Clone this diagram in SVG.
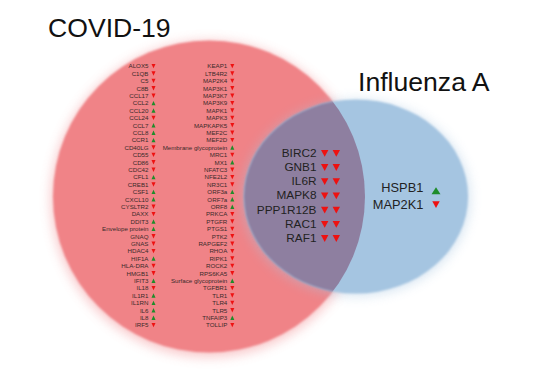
<svg xmlns="http://www.w3.org/2000/svg" xmlns:xlink="http://www.w3.org/1999/xlink" width="537" height="375" viewBox="0 0 537 375">
<style>
.title{font-family:"Liberation Sans",Arial,sans-serif;font-size:26.6px;fill:#111}
.g{font-family:"Liberation Sans",Arial,sans-serif;font-size:11.8px;fill:#222;text-anchor:end}
.h{font-family:"Liberation Sans",Arial,sans-serif;font-size:12.8px;fill:#222;text-anchor:end}
.s{font-family:"Liberation Sans",Arial,sans-serif;font-size:6.2px;fill:#3a2a2a;text-anchor:end}
.dn{fill:#ee1111}
.up{fill:#1e8c2a}
</style>
<defs>
<filter id="glow" x="-20%" y="-20%" width="140%" height="140%"><feGaussianBlur stdDeviation="6"/></filter>
<filter id="soft" x="-5%" y="-5%" width="110%" height="110%"><feGaussianBlur stdDeviation="0.8"/></filter>
<clipPath id="redclip"><circle cx="209" cy="196.5" r="156"/></clipPath>
<path id="bd" d="M-3.7,-6.8 L3.7,-6.8 L0,0 Z"/>
<path id="bu" d="M-4.5,0 L4.5,0 L0,-7 Z"/>
<path id="sd" d="M-2,-4.4 L2,-4.4 L0,0 Z"/>
<path id="su" d="M-2,0 L2,0 L0,-4.4 Z"/>
</defs>
<rect width="537" height="375" fill="#fff"/>
<g id="covid">
<circle cx="209" cy="199" r="158" fill="#f08286" opacity="0.45" filter="url(#glow)"/>
<circle cx="209" cy="196.5" r="156" fill="#f08387" filter="url(#soft)"/>
<text class="title" x="48" y="36.7">COVID-19</text>
</g>
<g id="influenza">
<ellipse cx="356" cy="198" rx="114" ry="98" fill="#a4c4e0" opacity="0.45" filter="url(#glow)"/>
<ellipse cx="356" cy="196.5" rx="112" ry="97" fill="#a5c5e1" filter="url(#soft)"/>
<ellipse cx="356" cy="196.5" rx="112" ry="97" fill="#8e7fa0" clip-path="url(#redclip)" filter="url(#soft)"/>
<text class="title" x="358" y="91">Influenza A</text>
</g>
<g id="connectors"/>
<g id="shared-genes">
<text class="g" x="316.5" y="156.7">BIRC2</text><use href="#bd" x="324.7" y="156.7" class="dn"/><use href="#bd" x="336.3" y="156.7" class="dn"/>
<text class="g" x="316.5" y="170.9">GNB1</text><use href="#bd" x="324.7" y="170.9" class="dn"/><use href="#bd" x="336.3" y="170.9" class="dn"/>
<text class="g" x="316.5" y="185.1">IL6R</text><use href="#bd" x="324.7" y="185.1" class="dn"/><use href="#bd" x="336.3" y="185.1" class="dn"/>
<text class="g" x="316.5" y="199.3">MAPK8</text><use href="#bd" x="324.7" y="199.3" class="dn"/><use href="#bd" x="336.3" y="199.3" class="dn"/>
<text class="g" x="316.5" y="213.5">PPP1R12B</text><use href="#bd" x="324.7" y="213.5" class="dn"/><use href="#bd" x="336.3" y="213.5" class="dn"/>
<text class="g" x="316.5" y="227.7">RAC1</text><use href="#bd" x="324.7" y="227.7" class="dn"/><use href="#bd" x="336.3" y="227.7" class="dn"/>
<text class="g" x="316.5" y="241.9">RAF1</text><use href="#bd" x="324.7" y="241.9" class="dn"/><use href="#bd" x="336.3" y="241.9" class="dn"/>
</g>
<g id="influenza-genes">
<text class="h" x="423.3" y="192">HSPB1</text><use href="#bu" x="436" y="194.3" class="up"/>
<text class="h" x="423.3" y="208.5">MAP2K1</text><use href="#bd" x="436" y="208" class="dn"/>
</g>
<g id="covid-genes-1">
<text class="s" x="148.5" y="68.3">ALOX5</text><use href="#sd" x="153.5" y="68.3" class="dn"/>
<text class="s" x="148.5" y="75.7">C1QB</text><use href="#sd" x="153.5" y="75.7" class="dn"/>
<text class="s" x="148.5" y="83.1">C5</text><use href="#sd" x="153.5" y="83.1" class="dn"/>
<text class="s" x="148.5" y="90.5">C8B</text><use href="#sd" x="153.5" y="90.5" class="dn"/>
<text class="s" x="148.5" y="97.9">CCL17</text><use href="#sd" x="153.5" y="97.9" class="dn"/>
<text class="s" x="148.5" y="105.3">CCL2</text><use href="#su" x="153.5" y="105.3" class="up"/>
<text class="s" x="148.5" y="112.7">CCL20</text><use href="#su" x="153.5" y="112.7" class="up"/>
<text class="s" x="148.5" y="120.1">CCL24</text><use href="#sd" x="153.5" y="120.1" class="dn"/>
<text class="s" x="148.5" y="127.5">CCL7</text><use href="#su" x="153.5" y="127.5" class="up"/>
<text class="s" x="148.5" y="134.9">CCL8</text><use href="#su" x="153.5" y="134.9" class="up"/>
<text class="s" x="148.5" y="142.3">CCR1</text><use href="#su" x="153.5" y="142.3" class="up"/>
<text class="s" x="148.5" y="149.7">CD40LG</text><use href="#sd" x="153.5" y="149.7" class="dn"/>
<text class="s" x="148.5" y="157.1">CD55</text><use href="#sd" x="153.5" y="157.1" class="dn"/>
<text class="s" x="148.5" y="164.5">CD86</text><use href="#sd" x="153.5" y="164.5" class="dn"/>
<text class="s" x="148.5" y="171.9">CDC42</text><use href="#sd" x="153.5" y="171.9" class="dn"/>
<text class="s" x="148.5" y="179.3">CFL1</text><use href="#su" x="153.5" y="179.3" class="up"/>
<text class="s" x="148.5" y="186.7">CREB1</text><use href="#sd" x="153.5" y="186.7" class="dn"/>
<text class="s" x="148.5" y="194.1">CSF1</text><use href="#su" x="153.5" y="194.1" class="up"/>
<text class="s" x="148.5" y="201.5">CXCL10</text><use href="#su" x="153.5" y="201.5" class="up"/>
<text class="s" x="148.5" y="208.9">CYSLTR2</text><use href="#sd" x="153.5" y="208.9" class="dn"/>
<text class="s" x="148.5" y="216.3">DAXX</text><use href="#sd" x="153.5" y="216.3" class="dn"/>
<text class="s" x="148.5" y="223.7">DDIT3</text><use href="#su" x="153.5" y="223.7" class="up"/>
<text class="s" x="148.5" y="231.1">Envelope protein</text><use href="#su" x="153.5" y="231.1" class="up"/>
<text class="s" x="148.5" y="238.5">GNAQ</text><use href="#sd" x="153.5" y="238.5" class="dn"/>
<text class="s" x="148.5" y="245.9">GNAS</text><use href="#sd" x="153.5" y="245.9" class="dn"/>
<text class="s" x="148.5" y="253.3">HDAC4</text><use href="#sd" x="153.5" y="253.3" class="dn"/>
<text class="s" x="148.5" y="260.7">HIF1A</text><use href="#su" x="153.5" y="260.7" class="up"/>
<text class="s" x="148.5" y="268.1">HLA-DRA</text><use href="#sd" x="153.5" y="268.1" class="dn"/>
<text class="s" x="148.5" y="275.5">HMGB1</text><use href="#sd" x="153.5" y="275.5" class="dn"/>
<text class="s" x="148.5" y="282.9">IFIT3</text><use href="#su" x="153.5" y="282.9" class="up"/>
<text class="s" x="148.5" y="290.3">IL18</text><use href="#sd" x="153.5" y="290.3" class="dn"/>
<text class="s" x="148.5" y="297.7">IL1R1</text><use href="#su" x="153.5" y="297.7" class="up"/>
<text class="s" x="148.5" y="305.1">IL1RN</text><use href="#su" x="153.5" y="305.1" class="up"/>
<text class="s" x="148.5" y="312.5">IL6</text><use href="#su" x="153.5" y="312.5" class="up"/>
<text class="s" x="148.5" y="319.9">IL8</text><use href="#su" x="153.5" y="319.9" class="up"/>
<text class="s" x="148.5" y="327.3">IRF5</text><use href="#sd" x="153.5" y="327.3" class="dn"/>
</g>
<g id="covid-genes-2">
<text class="s" x="227.3" y="68.3">KEAP1</text><use href="#sd" x="232.3" y="68.3" class="dn"/>
<text class="s" x="227.3" y="75.7">LTB4R2</text><use href="#sd" x="232.3" y="75.7" class="dn"/>
<text class="s" x="227.3" y="83.1">MAP2K4</text><use href="#sd" x="232.3" y="83.1" class="dn"/>
<text class="s" x="227.3" y="90.5">MAP3K1</text><use href="#sd" x="232.3" y="90.5" class="dn"/>
<text class="s" x="227.3" y="97.9">MAP3K7</text><use href="#sd" x="232.3" y="97.9" class="dn"/>
<text class="s" x="227.3" y="105.3">MAP3K9</text><use href="#sd" x="232.3" y="105.3" class="dn"/>
<text class="s" x="227.3" y="112.7">MAPK1</text><use href="#sd" x="232.3" y="112.7" class="dn"/>
<text class="s" x="227.3" y="120.1">MAPK3</text><use href="#sd" x="232.3" y="120.1" class="dn"/>
<text class="s" x="227.3" y="127.5">MAPKAPK5</text><use href="#sd" x="232.3" y="127.5" class="dn"/>
<text class="s" x="227.3" y="134.9">MEF2C</text><use href="#sd" x="232.3" y="134.9" class="dn"/>
<text class="s" x="227.3" y="142.3">MEF2D</text><use href="#sd" x="232.3" y="142.3" class="dn"/>
<text class="s" x="227.3" y="149.7">Membrane glycoprotein</text><use href="#su" x="232.3" y="149.7" class="up"/>
<text class="s" x="227.3" y="157.1">MRC1</text><use href="#sd" x="232.3" y="157.1" class="dn"/>
<text class="s" x="227.3" y="164.5">MX1</text><use href="#su" x="232.3" y="164.5" class="up"/>
<text class="s" x="227.3" y="171.9">NFATC3</text><use href="#sd" x="232.3" y="171.9" class="dn"/>
<text class="s" x="227.3" y="179.3">NFE2L2</text><use href="#sd" x="232.3" y="179.3" class="dn"/>
<text class="s" x="227.3" y="186.7">NR3C1</text><use href="#sd" x="232.3" y="186.7" class="dn"/>
<text class="s" x="227.3" y="194.1">ORF3a</text><use href="#su" x="232.3" y="194.1" class="up"/>
<text class="s" x="227.3" y="201.5">ORF7a</text><use href="#su" x="232.3" y="201.5" class="up"/>
<text class="s" x="227.3" y="208.9">ORF8</text><use href="#su" x="232.3" y="208.9" class="up"/>
<text class="s" x="227.3" y="216.3">PRKCA</text><use href="#sd" x="232.3" y="216.3" class="dn"/>
<text class="s" x="227.3" y="223.7">PTGFR</text><use href="#sd" x="232.3" y="223.7" class="dn"/>
<text class="s" x="227.3" y="231.1">PTGS1</text><use href="#sd" x="232.3" y="231.1" class="dn"/>
<text class="s" x="227.3" y="238.5">PTK2</text><use href="#sd" x="232.3" y="238.5" class="dn"/>
<text class="s" x="227.3" y="245.9">RAPGEF2</text><use href="#sd" x="232.3" y="245.9" class="dn"/>
<text class="s" x="227.3" y="253.3">RHOA</text><use href="#sd" x="232.3" y="253.3" class="dn"/>
<text class="s" x="227.3" y="260.7">RIPK1</text><use href="#sd" x="232.3" y="260.7" class="dn"/>
<text class="s" x="227.3" y="268.1">ROCK2</text><use href="#sd" x="232.3" y="268.1" class="dn"/>
<text class="s" x="227.3" y="275.5">RPS6KA5</text><use href="#sd" x="232.3" y="275.5" class="dn"/>
<text class="s" x="227.3" y="282.9">Surface glycoprotein</text><use href="#su" x="232.3" y="282.9" class="up"/>
<text class="s" x="227.3" y="290.3">TGFBR1</text><use href="#sd" x="232.3" y="290.3" class="dn"/>
<text class="s" x="227.3" y="297.7">TLR1</text><use href="#sd" x="232.3" y="297.7" class="dn"/>
<text class="s" x="227.3" y="305.1">TLR4</text><use href="#sd" x="232.3" y="305.1" class="dn"/>
<text class="s" x="227.3" y="312.5">TLR5</text><use href="#sd" x="232.3" y="312.5" class="dn"/>
<text class="s" x="227.3" y="319.9">TNFAIP3</text><use href="#su" x="232.3" y="319.9" class="up"/>
<text class="s" x="227.3" y="327.3">TOLLIP</text><use href="#sd" x="232.3" y="327.3" class="dn"/>
</g>
</svg>
